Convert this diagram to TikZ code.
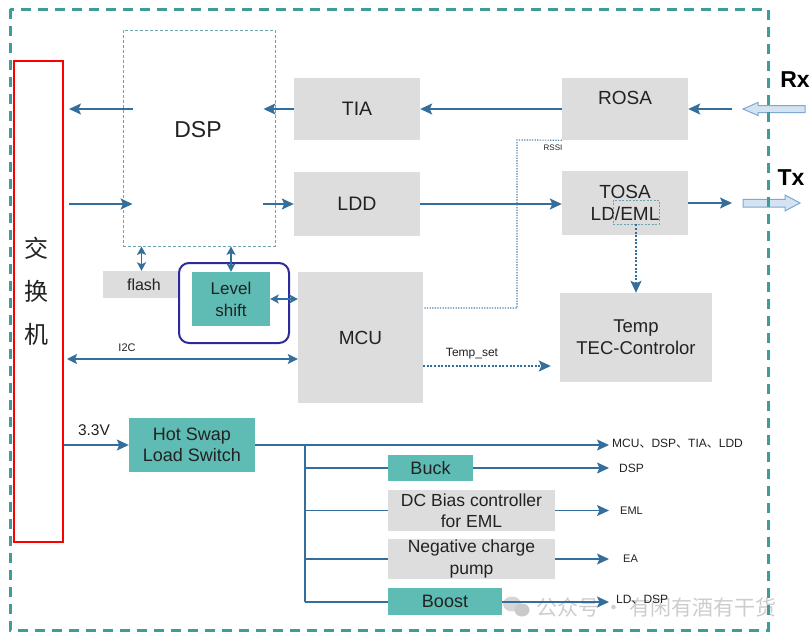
\documentclass[tikz,border=0pt]{standalone}
\usepackage{fontspec}
\setmainfont{Liberation Sans}
\newfontfamily\cjk{Noto Sans CJK SC}
\usetikzlibrary{arrows.meta,calc}
\definecolor{boxgray}{HTML}{DDDDDD}
\definecolor{tealbox}{HTML}{5FBCB4}
\definecolor{arrowblue}{HTML}{336E9C}
\definecolor{bordteal}{HTML}{3F9C98}
\definecolor{dspdash}{HTML}{6AA6AC}
\definecolor{lsblue}{HTML}{2B2B9C}
\definecolor{txt}{HTML}{222222}
\definecolor{hollowfill}{HTML}{D3E3F2}
\definecolor{hollowdraw}{HTML}{7FA8D0}
\definecolor{wm}{HTML}{C4C4C4}
\begin{document}
\begin{tikzpicture}[x=1pt,y=-1pt,
  every node/.style={inner sep=0pt, text=txt},
  fs/.style={font=\fontsize{#1}{22}\selectfont},
  gbox/.style={fill=boxgray, draw=none},
  tbox/.style={fill=tealbox, draw=none},
  arr/.style={draw=arrowblue, line width=1.5pt, -{Stealth[length=12pt,width=11pt,inset=2.5pt]}},
  darr/.style={draw=arrowblue, line width=1.5pt, {Stealth[length=10pt,width=10pt,inset=2pt]}-{Stealth[length=10pt,width=10pt,inset=2pt]}},
  sdarr/.style={draw=arrowblue, line width=1.5pt, {Stealth[length=8.5pt,width=9pt,inset=2pt]}-{Stealth[length=8.5pt,width=9pt,inset=2pt]}},
  dotarr/.style={draw=arrowblue, line width=1.5pt, dash pattern=on 2pt off 1.6pt, -{Stealth[length=12pt,width=11pt,inset=2.5pt]}},
  ln/.style={draw=arrowblue, line width=1.5pt},
  hollow/.style={fill=hollowfill, draw=hollowdraw, line width=1pt, line join=miter}
]
\useasboundingbox[fill=white] (0,0) rectangle (811,640);

% watermark
\fill[wm!70] (512,604) ellipse (9pt and 7.5pt);
\fill[wm!90] (522,610) ellipse (7.5pt and 6.5pt);
\node[text=wm!85, font=\cjk\fontsize{21}{22}\selectfont, anchor=west] (wmark) at (536,607) {公众号 · 有闲有酒有干货};

% switch (red box)
\node[draw=red, line width=2pt, fill=white, minimum width=49pt, minimum height=481pt] (sw) at (38.5,301.5) {};
\node[font=\cjk\fontsize{24}{43}\selectfont, align=center] (swtxt) at (36,291) {交\\换\\机};

% DSP
\node[draw=dspdash, line width=0.9pt, dash pattern=on 3pt off 2pt, fill=white, minimum width=152pt, minimum height=216pt] (dsp) at (199,138) {};
\node[fs=23] (dsptxt) at (198,130) {DSP};

% optical chain
\node[gbox, minimum width=126pt, minimum height=62pt, fs=19.5] (tia) at (357,109) {TIA};
\node[gbox, minimum width=126pt, minimum height=64pt, fs=19.5] (ldd) at (357,204) {LDD};
\node[gbox, minimum width=126pt, minimum height=62pt] (rosa) at (625,109) {};
\node[fs=19] (rosatxt) at (625,98) {ROSA};
\node[gbox, minimum width=126pt, minimum height=64pt, align=center, fs=19] (tosa) at (625,203) {TOSA\\LD/EML};
\node[draw=dspdash, line width=0.8pt, dash pattern=on 2pt off 1.5pt, minimum width=46pt, minimum height=24pt] (eml) at (636,212) {};
\node[gbox, minimum width=152pt, minimum height=89pt, align=center, fs=18.5] (temp) at (636,337.5) {Temp\\TEC-Controlor};

% flash, level shift, MCU
\node[gbox, minimum width=77pt, minimum height=27pt, fs=16] (flash) at (141.5,284.5) {\hspace*{5pt}flash};
\node[draw=lsblue, line width=2pt, fill=white, rounded corners=10pt, minimum width=110pt, minimum height=80pt] (lsgrp) at (234,303) {};
\node[tbox, minimum width=78pt, minimum height=54pt, align=center, fs=17] (lvl) at (231,299) {Level\\shift};
\node[gbox, minimum width=125pt, minimum height=131pt, fs=19] (mcu) at (360.5,337.5) {MCU};

% power
\node[tbox, minimum width=126pt, minimum height=54pt, align=center, font=\fontsize{18}{21}\selectfont] (hs) at (192,445) {Hot Swap\\Load Switch};
\node[tbox, minimum width=85pt, minimum height=26pt, fs=18] (buck) at (430.5,468) {Buck};
\node[gbox, minimum width=167pt, minimum height=41pt, align=center, font=\fontsize{17.5}{21}\selectfont] (dcb) at (471.5,510.5) {DC Bias controller\\for EML};
\node[gbox, minimum width=167pt, minimum height=40pt, align=center, font=\fontsize{17.5}{22}\selectfont] (neg) at (471.5,559) {Negative charge\\pump};
\node[tbox, minimum width=114pt, minimum height=27pt, fs=18] (boost) at (445,601.5) {Boost};

% hollow Rx / Tx arrows
\draw[hollow] (743,109) -- (758,102.5) -- (758,105.5) -- (805,105.5) -- (805,112.5) -- (758,112.5) -- (758,115.5) -- cycle;
\draw[hollow] (800,203) -- (785,195) -- (785,199.3) -- (743,199.3) -- (743,207) -- (785,207) -- (785,211) -- cycle;
\node[font=\bfseries\fontsize{23}{24}\selectfont, text=black] (rx) at (795,80) {Rx};
\node[font=\bfseries\fontsize{23}{24}\selectfont, text=black] (tx) at (791,178) {Tx};
\coordinate (rxin) at (732,109);
\coordinate (txout) at (732,203);

% outer border
\draw[bordteal, line width=3pt, dash pattern=on 10pt off 7pt] (10,9) rectangle (768,630);

% data arrows
\draw[arr] ([xshift=10pt]dsp.west |- tia.west) -- ([xshift=5pt]sw.east |- tia.west);
\draw[arr] (tia.west) -- ([xshift=-12pt]dsp.east |- tia.west);
\draw[arr] ([xshift=5pt]sw.east |- ldd.west) -- ([xshift=10pt]dsp.west |- ldd.west);
\draw[arr] ([xshift=-12pt]dsp.east |- ldd.west) -- (ldd.west);
\draw[arr] (rosa.west) -- (tia.east);
\draw[arr] (rxin) -- (rosa.east);
\draw[arr] (ldd.east) -- (tosa.west |- ldd.east);
\draw[arr] (tosa.east |- txout) -- (txout);
\draw[dotarr] (eml.south) -- (temp.north -| eml.south);

% RSSI
\draw[draw=arrowblue!85, line width=1.2pt, dash pattern=on 1.3pt off 1.3pt] (rosa.south west) -- (517,140) -- (517,308) -- (mcu.east |- 0,308);
\node[font=\fontsize{8}{9}\selectfont] (rssi) at (553,147.5) {RSSI};

% Temp_set
\draw[dotarr, shorten >=9pt] (mcu.east |- 0,366) -- (temp.west |- 0,366);
\node[fs=12] (tset) at (472,354) {Temp\_set};

% control
\draw[sdarr] (dsp.south -| flash.north) -- (flash.north);
\draw[sdarr] (dsp.south -| lvl.north) -- (lvl.north);
\draw[sdarr] (lvl.east) -- (mcu.west |- lvl.east);
\draw[darr, shorten <=3pt] (sw.east |- 0,359) -- (mcu.west |- 0,359);
\node[fs=11] (i2c) at (127,348) {I2C};

% power distribution
\draw[arr] (sw.east |- hs.west) -- (hs.west);
\node[fs=15.5] (v33) at (94,430) {3.3V};
\coordinate (bus) at (305,445);
\coordinate (busend) at (305,602);
\coordinate (p1) at (609,445);
\draw[arr] (hs.east) -- (p1);
\draw[ln] (bus) -- (busend);
\draw[ln] (bus |- buck.west) -- (buck.west);
\draw[ln] (bus |- dcb.west) -- (dcb.west);
\draw[ln] (bus |- neg.west) -- (neg.west);
\draw[ln] (busend) -- (boost.west |- busend);
\draw[arr] (buck.east) -- (609,468);
\draw[arr] (dcb.east) -- (609,510.5);
\draw[arr] (neg.east) -- (609,559);
\draw[arr] (boost.east |- busend) -- (609,602);
\node[fs=12, anchor=west] (l1) at (612,444) {MCU{\cjk 、}DSP{\cjk 、}TIA{\cjk 、}LDD};
\node[fs=12, anchor=west] (l2) at (619,468) {DSP};
\node[fs=11, anchor=west] (l3) at (620,511) {EML};
\node[fs=11, anchor=west] (l4) at (623,559) {EA};
\node[fs=12, anchor=west] (l5) at (616,600) {LD{\cjk 、}DSP};
\end{tikzpicture}
\end{document}
